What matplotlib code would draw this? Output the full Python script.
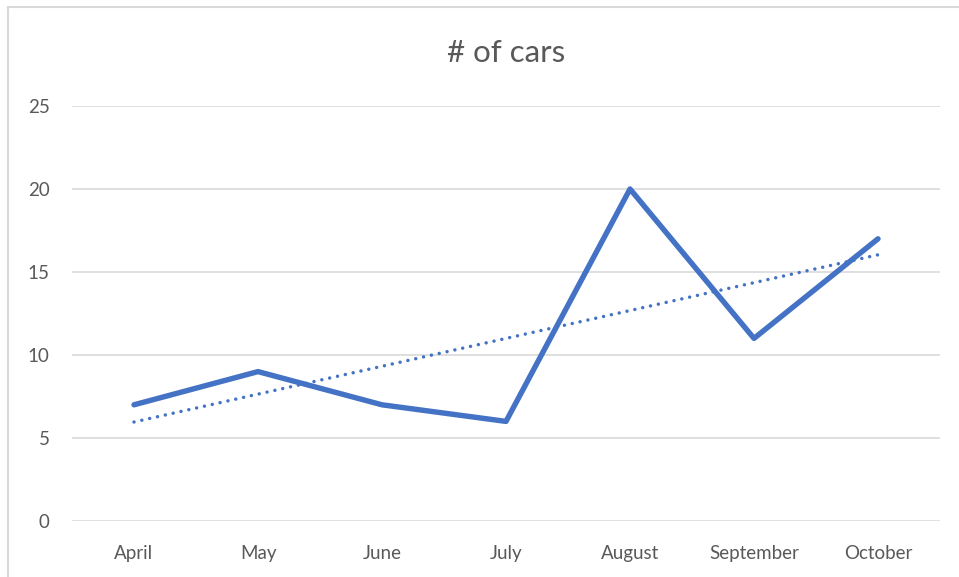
import matplotlib.pyplot as plt
import numpy as np
from matplotlib.patches import Rectangle

months = ['April', 'May', 'June', 'July', 'August', 'September', 'October']
cars = [7, 9, 7, 6, 20, 11, 17]

blue = '#4472C4'
grey = '#595959'
plt.rcParams['font.family'] = ['Lato', 'DejaVu Sans']

fig = plt.figure(figsize=(9.59, 5.77), dpi=100)
ax = fig.add_axes([72 / 959, 56 / 577, 868 / 959, 415 / 577])

x = np.arange(len(months))
ax.plot(x, cars, color=blue, linewidth=3.9, solid_capstyle='round', solid_joinstyle='round', zorder=3)

# linear trendline
slope, intercept = np.polyfit(x, cars, 1)
ax.plot(x, slope * x + intercept, color=blue, linewidth=2.5,
        linestyle=(0, (0.01, 2.3)), dash_capstyle='round', zorder=3)

ax.set_xlim(-0.5, len(months) - 0.5)
ax.set_ylim(0, 25)
ax.set_yticks(range(0, 26, 5))
ax.set_xticks(x)
ax.set_xticklabels(months)
ax.grid(axis='y', color='#d9d9d9', linewidth=1.2)
ax.set_axisbelow(True)
for s in ax.spines.values():
    s.set_visible(False)
ax.tick_params(axis='both', length=0, labelsize=13.5, colors=grey)
ax.tick_params(axis='x', pad=17)
ax.tick_params(axis='y', pad=16)

ax.set_title('# of cars', fontsize=22.5, color=grey, pad=32)

fig.patches.append(Rectangle((8 / 959, -0.05), 1.1, 1.05 - 7 / 577, transform=fig.transFigure,
                             fill=False, edgecolor='#d9d9d9', linewidth=1.5))

fig.savefig('out.png', dpi=100)
